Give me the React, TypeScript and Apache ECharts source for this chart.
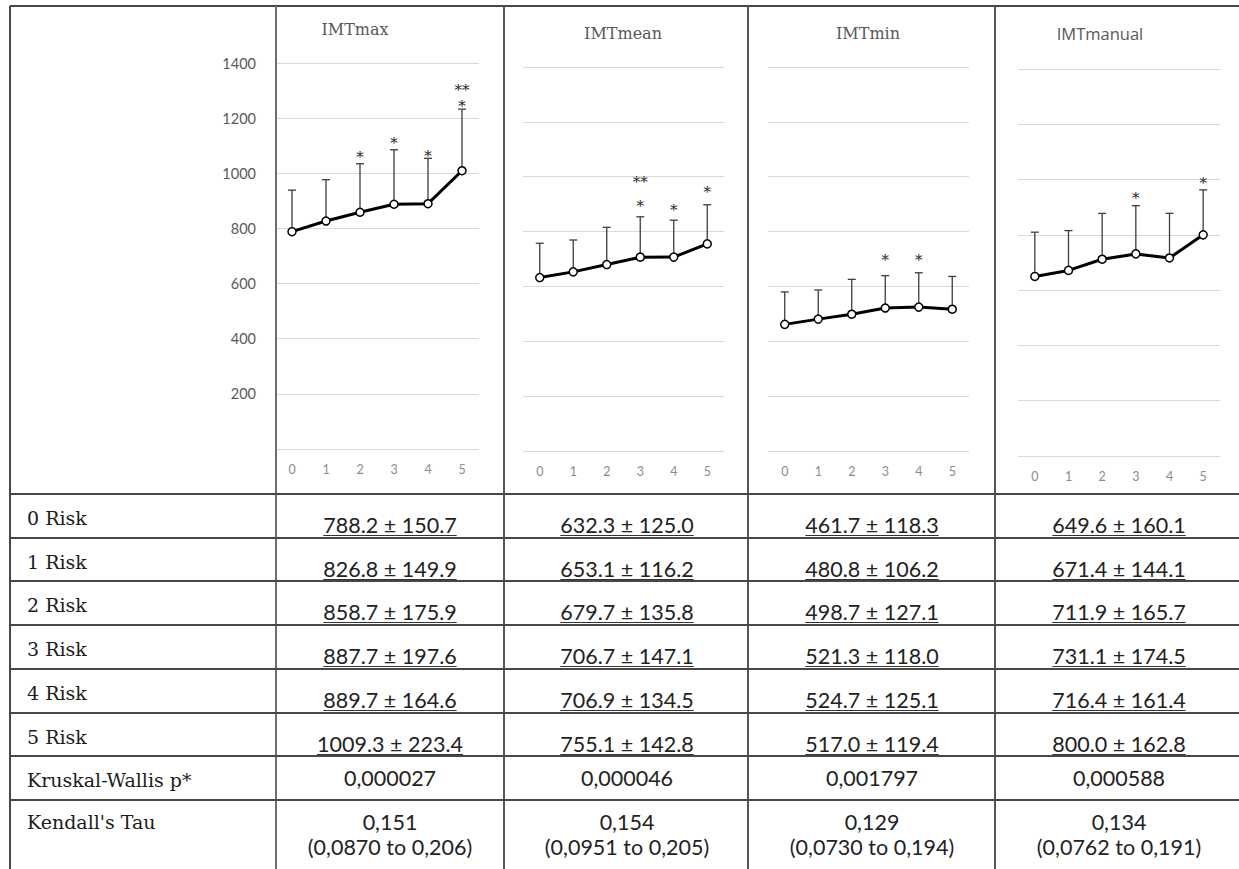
import React, { useEffect, useRef } from "react";
import * as echarts from "echarts";

// ---------- data ----------
const categories = ["0", "1", "2", "3", "4", "5"];
const chartTitles = ["IMTmax", "IMTmean", "IMTmin", "IMTmanual"];

const maxMean = [788.2, 826.8, 858.7, 887.7, 889.7, 1009.3];
const maxSd = [150.7, 149.9, 175.9, 197.6, 164.6, 223.4];
const meanMean = [632.3, 653.1, 679.7, 706.7, 706.9, 755.1];
const meanSd = [125.0, 116.2, 135.8, 147.1, 134.5, 142.8];
const minMean = [461.7, 480.8, 498.7, 521.3, 524.7, 517.0];
const minSd = [118.3, 106.2, 127.1, 118.0, 125.1, 119.4];
const manualMean = [649.6, 671.4, 711.9, 731.1, 716.4, 800.0];
const manualSd = [160.1, 144.1, 165.7, 174.5, 161.4, 162.8];

// significance marks: [category index, value at which the mark sits, text]
const maxStars: [number, number, string][] = [
  [2, 1070, "*"], [3, 1121, "*"], [4, 1074, "*"], [5, 1255, "*"], [5, 1312, "**"],
];
const meanStars: [number, number, string][] = [
  [3, 904, "*"], [3, 992, "**"], [4, 890, "*"], [5, 955, "*"],
];
const minStars: [number, number, string][] = [
  [3, 707, "*"], [4, 707, "*"],
];
const manualStars: [number, number, string][] = [
  [3, 944, "*"], [5, 998, "*"],
];

const rowLabels = ["0 Risk", "1 Risk", "2 Risk", "3 Risk", "4 Risk", "5 Risk", "Kruskal-Wallis p*", "Kendall's Tau"];
const kruskalP = ["0,000027", "0,000046", "0,001797", "0,000588"];
const kendallTau = ["0,151", "0,154", "0,129", "0,134"];
const kendallCi = ["(0,0870 to 0,206)", "(0,0951 to 0,205)", "(0,0730 to 0,194)", "(0,0762 to 0,191)"];

const Y_MIN = 0;
const Y_MAX = 1400;
const Y_INTERVAL = 200;

// ---------- layout (not data) ----------
const W = 1239;
const H = 869;
const grids = [
  { left: 275, width: 204, top: 63, height: 386 },
  { left: 523, width: 201, top: 67, height: 384 },
  { left: 768, width: 201, top: 67, height: 384 },
  { left: 1018, width: 202, top: 69, height: 387 },
];
const titlePos = [
  { x: 355, y: 29, serif: true },
  { x: 623, y: 33, serif: true },
  { x: 868, y: 33, serif: true },
  { x: 1100, y: 33, serif: false },
];
const colLines = [276, 504, 748, 995];
const colCenters = [390, 627, 872, 1119];
const rowLines = [494, 538, 581, 625, 669, 713, 756, 800];
const TABLE_LEFT = 10;
const TABLE_TOP = 6;

const SERIF = "DejaVu Serif";
const SANS = "Lato";
const LINE_COLOR = "#474747";

function measure(text: string, size: number, family: string) {
  const c = document.createElement("canvas");
  const ctx = c.getContext("2d");
  if (!ctx) return text.length * size * 0.5;
  ctx.font = `${size}px "${family}"`;
  return ctx.measureText(text).width;
}

export default function App() {
  const ref = useRef<HTMLDivElement>(null);

  useEffect(() => {
    document.body.style.margin = "0";
    if (!ref.current) return;
    const chart = echarts.init(ref.current, null, { renderer: "svg" });

    const means = [maxMean, meanMean, minMean, manualMean];
    const sds = [maxSd, meanSd, minSd, manualSd];
    const stars = [maxStars, meanStars, minStars, manualStars];

    const series: any[] = [];
    for (let i = 0; i < 4; i++) {
      const m = means[i];
      const s = sds[i];
      series.push({
        type: "custom",
        xAxisIndex: i,
        yAxisIndex: i,
        z: 2,
        silent: true,
        encode: { x: 0, y: [1, 2] },
        data: m.map((v, k) => [k, v, v + s[k]]),
        renderItem: (params: any, api: any) => {
          const x = api.value(0);
          const p0 = api.coord([x, api.value(1)]);
          const p1 = api.coord([x, api.value(2)]);
          const st = { stroke: "#3d3d3d", lineWidth: 1.3 };
          return {
            type: "group",
            children: [
              { type: "line", shape: { x1: p0[0], y1: p0[1], x2: p1[0], y2: p1[1] }, style: st },
              { type: "line", shape: { x1: p1[0] - 4, y1: p1[1], x2: p1[0] + 4, y2: p1[1] }, style: st },
            ],
          };
        },
      });
      series.push({
        type: "line",
        xAxisIndex: i,
        yAxisIndex: i,
        z: 4,
        data: m,
        symbol: "circle",
        symbolSize: 8,
        showSymbol: true,
        lineStyle: { color: "#000", width: 3 },
        itemStyle: { color: "#fff", borderColor: "#000", borderWidth: 1.5 },
      });
      const st = stars[i];
      series.push({
        type: "custom",
        xAxisIndex: i,
        yAxisIndex: i,
        z: 5,
        silent: true,
        encode: { x: 0, y: 1 },
        data: st.map((d) => [d[0], d[1]]),
        renderItem: (params: any, api: any) => {
          const p = api.coord([api.value(0), api.value(1)]);
          return {
            type: "text",
            x: p[0],
            y: p[1] + 3,
            style: {
              text: st[params.dataIndex][2],
              fontSize: 15,
              fontFamily: SERIF,
              fill: "#262626",
              align: "center",
              verticalAlign: "middle",
            },
          };
        },
      });
    }

    // ---------- table graphic ----------
    const g: any[] = [];
    const addLine = (x1: number, y1: number, x2: number, y2: number, color = LINE_COLOR, w = 2) =>
      g.push({ type: "line", silent: true, z: 10, shape: { x1, y1, x2, y2 }, style: { stroke: color, lineWidth: w } });

    addLine(TABLE_LEFT, TABLE_TOP, W, TABLE_TOP);
    addLine(TABLE_LEFT, TABLE_TOP, TABLE_LEFT, H);
    colLines.forEach((x, i) => addLine(x, TABLE_TOP, x, H, i === 0 ? "#6e6e6e" : "#555", 2));
    rowLines.forEach((y) => addLine(TABLE_LEFT, y, W, y));

    const addText = (text: string, x: number, y: number, size: number, family: string, fill: string, align = "center") =>
      g.push({
        type: "text",
        silent: true,
        z: 11,
        x,
        y,
        style: { text, fontSize: size, fontFamily: family, fill, align, verticalAlign: "middle" },
      });

    chartTitles.forEach((t, i) => {
      const tp = titlePos[i];
      addText(t, tp.x, tp.y, tp.serif ? 16 : 16.5, tp.serif ? SERIF : "Open Sans", "#595959");
    });

    rowLabels.forEach((t, r) => {
      const top = rowLines[r];
      addText(t, 27, top + (r === 7 ? 22 : 24), 19, SERIF, "#1c1c1c", "left");
    });

    const VAL_SIZE = 21.5;
    for (let c = 0; c < 4; c++) {
      const m = means[c];
      const s = sds[c];
      for (let r = 0; r < 6; r++) {
        const top = rowLines[r];
        const txt = `${m[r].toFixed(1)} ± ${s[r].toFixed(1)}`;
        const cy = top + 31;
        addText(txt, colCenters[c], cy, VAL_SIZE, SANS, "#222");
        const w = measure(txt, VAL_SIZE, SANS);
        addLine(colCenters[c] - w / 2, top + 41.5, colCenters[c] + w / 2, top + 41.5, "#333", 1);
      }
      addText(kruskalP[c], colCenters[c], rowLines[6] + 22, VAL_SIZE, SANS, "#222");
      addText(kendallTau[c], colCenters[c], rowLines[7] + 22, VAL_SIZE, SANS, "#222");
      addText(kendallCi[c], colCenters[c], rowLines[7] + 47, VAL_SIZE, SANS, "#222");
    }

    const option: any = {
      animation: false,
      backgroundColor: "#fff",
      grid: grids.map((gr) => ({ ...gr, containLabel: false })),
      xAxis: grids.map((_, i) => ({
        type: "category",
        gridIndex: i,
        data: categories,
        boundaryGap: true,
        axisLine: { show: false },
        axisTick: { show: false },
        axisLabel: { color: "#8c8c8c", fontFamily: SANS, fontSize: 12.5, margin: 14 },
      })),
      yAxis: grids.map((_, i) => ({
        type: "value",
        gridIndex: i,
        min: Y_MIN,
        max: Y_MAX,
        interval: Y_INTERVAL,
        axisLine: { show: false },
        axisTick: { show: false },
        axisLabel: {
          show: i === 0,
          color: "#595959",
          fontFamily: SANS,
          fontSize: 14.5,
          margin: 19,
          formatter: (v: number) => (v === 0 ? "" : String(v)),
        },
        splitLine: { show: true, lineStyle: { color: "#d9d9d9", width: 1 } },
      })),
      series,
      graphic: g,
    };

    chart.setOption(option);
    return () => chart.dispose();
  }, []);

  return <div ref={ref} style={{ position: "absolute", left: 0, top: 0, width: W, height: H }} />;
}
